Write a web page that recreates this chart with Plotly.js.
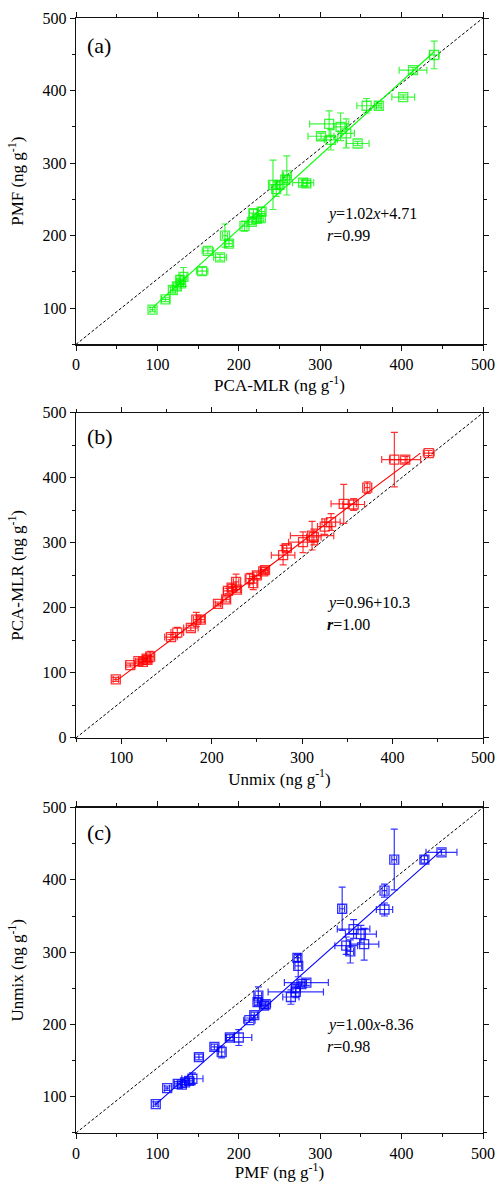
<!DOCTYPE html>
<html>
<head>
<meta charset="utf-8">
<script src="https://cdn.plot.ly/plotly-3.0.1.min.js"></script>
<style>html,body{margin:0;padding:0;background:#fff;}#chart{width:497px;height:1182px;}</style>
</head>
<body>
<div id="chart"></div>
<script>
// Source-apportioned concentrations per sample (ng g-1)
const pca    = [94,110,119,124,128,132,129,155,162,177,183,188,207,216,218,222,227,228,242,246,250,259,257,279,283,301,313,311,325,332,346,357,372,402,414,440];
const pmf    = [98,112,125,130,139,143,134,151,179,170,200,189,213,219,231,223,224,233,270,264,270,283,277,273,272,337,332,354,350,341,327,379,379,391,428,449];
const unmix  = [90,112,118,117,122,125,120,155,162,169,182,182,206,213,226,231,240,228,245,238,250,258,256,281,292,301,309,311,325,332,360,359,385,428,428,438];
const pcaErr   = [3,5,3,4,4,4,3,7,7,8,3,4,3,4,5,4,3,4,4,4,4,4,3,13,5,16,8,24,8,10,14,12,3,14,17,6];
const pmfErr   = [3,3,4,5,6,13,4,5,4,4,16,4,7,4,5,4,4,6,34,10,5,27,4,4,4,4,14,18,19,20,3,10,3,3,4,19];
const unmixErr = [3,3,3,4,4,8,3,4,8,4,11,4,3,4,4,5,12,4,8,10,5,4,3,15,5,16,12,22,12,13,30,9,9,42,5,4];

// Fit equations shown in panels
const fitA = {slope: 1.02, intercept: 4.71};   // PMF vs PCA-MLR
const fitB = {slope: 0.96, intercept: 10.3};   // written as y=0.96+10.3
const fitC = {slope: 1.00, intercept: -8.36};  // Unmix vs PMF

const rangeA = {x: [0, 500], y: [50, 500]};
const rangeB = {x: [50, 500], y: [0, 500]};
const rangeC = {x: [0, 500], y: [50, 500]};

const labels = ['(a)', '(b)', '(c)'];
const eqText = ['<i>y</i>=1.02<i>x</i>+4.71', '<i>y</i>=0.96+10.3', '<i>y</i>=1.00<i>x</i>-8.36'];
const rText  = ['<i>r</i>=0.99', '<b><i>r</i></b>=1.00', '<i>r</i>=0.98'];
const xTitles = ['PCA-MLR (ng g<sup>-1</sup>)', 'Unmix (ng g<sup>-1</sup>)', 'PMF (ng g<sup>-1</sup>)'];
const yTitles = ['PMF (ng g<sup>-1</sup>)', 'PCA-MLR (ng g<sup>-1</sup>)', 'Unmix (ng g<sup>-1</sup>)'];

const FONT = 'Liberation Serif, Times New Roman, serif';
const min = a => Math.min.apply(null, a), max = a => Math.max.apply(null, a);

function panel(xs, ys, ex, ey, color, fill, xa, ya, rng, fitX, fitY) {
  return [
    {x: rng.x, y: rng.y, xaxis: xa, yaxis: ya, mode: 'lines', type: 'scatter',
     line: {color: '#000', width: 1, dash: '3px,2px'}, hoverinfo: 'skip'},
    {x: fitX, y: fitY, xaxis: xa, yaxis: ya, mode: 'lines', type: 'scatter',
     line: {color: color, width: 1.1}, hoverinfo: 'skip'},
    {x: xs, y: ys, xaxis: xa, yaxis: ya, mode: 'markers', type: 'scatter',
     marker: {symbol: 'square-open', size: 9, color: fill, line: {width: 1.3, color: fill}},
     error_x: {type: 'data', array: ex, visible: true, color: fill, thickness: 1.2, width: 3.5},
     error_y: {type: 'data', array: ey, visible: true, color: fill, thickness: 1.2, width: 3.5}}
  ];
}

// Fit line endpoints
const aX = [min(pca), max(pca)], aY = aX.map(v => fitA.slope * v + fitA.intercept);
const bY = [min(unmix), max(unmix)], bX = bY.map(v => fitB.slope * v + fitB.intercept);
const cX = [min(pmf), max(pmf)], cY = cX.map(v => fitC.slope * v + fitC.intercept);

const data = [].concat(
  panel(pca, pmf, pcaErr, pmfErr, '#00ff00', 'rgba(0,245,0,0.75)', 'x', 'y', rangeA, aX, aY),
  panel(pca, unmix, pcaErr, unmixErr, '#ff0000', 'rgba(255,0,0,0.8)', 'x2', 'y2', rangeB, bX, bY),
  panel(pmf, unmix, pmfErr, unmixErr, '#0000ff', 'rgba(0,0,255,0.8)', 'x3', 'y3', rangeC, cX, cY)
);

function xaxis(i, rng, anchor) {
  return {range: rng, anchor: anchor, domain: [0, 1], showline: true, linecolor: '#111', linewidth: 1.3,
    mirror: 'allticks', ticks: 'outside', ticklen: 5, tickwidth: 1, tickcolor: '#111',
    tick0: 0, dtick: 100, showgrid: false, zeroline: false,
    minor: {ticks: 'outside', ticklen: 3, dtick: 50, tick0: 0, tickcolor: '#111', showgrid: false},
    tickfont: {family: FONT, size: 16, color: '#000'},
    title: {text: xTitles[i], font: {family: FONT, size: 17, color: '#000'}, standoff: 4}};
}
function yaxis(i, rng, anchor, dom) {
  return {range: rng, anchor: anchor, domain: dom, showline: true, linecolor: '#111', linewidth: 1.3,
    mirror: 'allticks', ticks: 'outside', ticklen: 5, tickwidth: 1, tickcolor: '#111',
    tick0: 0, dtick: 100, showgrid: false, zeroline: false,
    minor: {ticks: 'outside', ticklen: 3, dtick: 50, tick0: 0, tickcolor: '#111', showgrid: false},
    tickfont: {family: FONT, size: 16, color: '#000'},
    title: {text: yTitles[i], font: {family: FONT, size: 17, color: '#000'}, standoff: 14}};
}

const doms = [[0.70727, 1.0], [0.35436, 0.64591], [0, 0.29192]];
const labY = [0.917, 0.926, 0.922];
const eqY = [0.399, 0.4135, 0.333];
const rY = [0.333, 0.348, 0.265];
const refs = [['x', 'y'], ['x2', 'y2'], ['x3', 'y3']];
const annotations = [];
for (let i = 0; i < 3; i++) {
  const xr = refs[i][0] + ' domain', yr = refs[i][1] + ' domain';
  annotations.push({text: labels[i], xref: xr, yref: yr, x: 0.022, y: labY[i], xanchor: 'left', yanchor: 'middle',
    showarrow: false, font: {family: FONT, size: 22, color: '#000'}});
  annotations.push({text: eqText[i], xref: xr, yref: yr, x: 0.612, y: eqY[i], xanchor: 'left', yanchor: 'middle',
    showarrow: false, font: {family: FONT, size: 16, color: '#000'}});
  annotations.push({text: rText[i], xref: xr, yref: yr, x: 0.612, y: rY[i], xanchor: 'left', yanchor: 'middle',
    showarrow: false, font: {family: FONT, size: 16, color: '#000'}});
}

const layout = {
  width: 497, height: 1182,
  margin: {l: 76, r: 14, t: 18, b: 49.3},
  paper_bgcolor: '#fff', plot_bgcolor: '#fff',
  showlegend: false,
  xaxis: xaxis(0, rangeA.x, 'y'),
  yaxis: yaxis(0, rangeA.y, 'x', doms[0]),
  xaxis2: xaxis(1, rangeB.x, 'y2'),
  yaxis2: yaxis(1, rangeB.y, 'x2', doms[1]),
  xaxis3: xaxis(2, rangeC.x, 'y3'),
  yaxis3: yaxis(2, rangeC.y, 'x3', doms[2]),
  annotations: annotations
};

Plotly.newPlot('chart', data, layout, {staticPlot: true, displayModeBar: false});
</script>
</body>
</html>
